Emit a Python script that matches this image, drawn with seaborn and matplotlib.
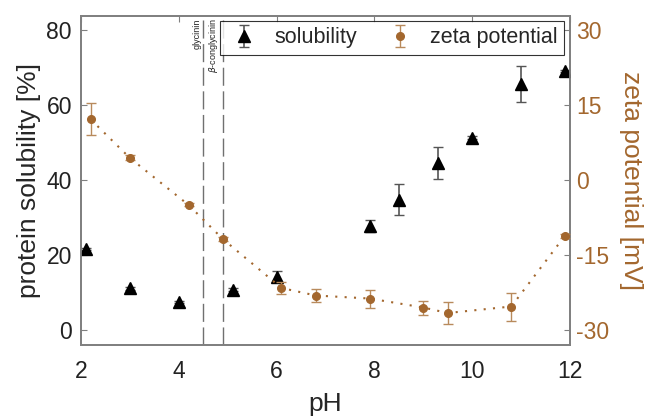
import matplotlib
matplotlib.use("Agg")
import matplotlib.pyplot as plt
import numpy as np
import pandas as pd
import seaborn as sns

# solubility data (left axis)
sol_ph = [2.1, 3.0, 4.0, 5.1, 6.0, 7.9, 8.5, 9.3, 10.0, 11.0, 11.9]
sol_val = [21.6, 11.1, 7.4, 10.8, 14.2, 27.6, 34.7, 44.6, 51.3, 65.6, 69.1]
sol_err = [0.3, 0.3, 0.3, 0.3, 1.5, 1.6, 4.1, 4.3, 0.4, 4.9, 0.3]

# zeta potential data (right axis)
zeta_ph = [2.2, 3.0, 4.2, 4.9, 6.1, 6.8, 7.9, 9.0, 9.5, 10.8, 11.9]
zeta_val = [12.1, 4.4, -5.0, -11.8, -21.6, -23.1, -23.7, -25.5, -26.6, -25.3, -11.1]
zeta_err = [3.2, 0.5, 0.3, 0.4, 1.2, 1.3, 1.8, 1.4, 2.2, 2.8, 0.4]

# isoelectric points
pi_ph = [4.5, 4.9]
pi_labels = ["glycinin", r"$\beta$-conglycinin"]
pi_text_x = [4.47, 4.84]

brown = "#a3672e"
spine_gray = "#808080"

sns.set_style("white")
plt.rcParams["font.family"] = ["Liberation Sans", "DejaVu Sans"]
plt.rcParams["axes.unicode_minus"] = False

sol_df = pd.DataFrame({"pH": sol_ph, "solubility": sol_val})
zeta_df = pd.DataFrame({"pH": zeta_ph, "zeta": zeta_val})

fig = plt.figure(figsize=(6.49, 4.18), dpi=100)
ax = fig.add_axes([0.1248, 0.1746, 0.7535, 0.7878])
ax2 = ax.twinx()

# dashed lines for the isoelectric points
for x, lab, tx in zip(pi_ph, pi_labels, pi_text_x):
    ax.axvline(x, color="#707070", lw=1.0, dashes=(13, 4), zorder=1)
    ax.text(tx, 83.0, lab, rotation=90, ha="right", va="top", fontsize=6.5, color="#222222")

# solubility
eb1 = ax.errorbar(sol_ph, sol_val, yerr=sol_err, fmt="^", color="black", ms=8,
                  ecolor="#555555", elinewidth=1.2, capsize=3.5, capthick=1.0,
                  label="solubility", zorder=3)
sns.scatterplot(data=sol_df, x="pH", y="solubility", marker="^", s=64, color="black",
                edgecolor="black", linewidth=0, ax=ax, legend=False, zorder=4)

# zeta potential
sns.lineplot(data=zeta_df, x="pH", y="zeta", ax=ax2, color=brown, lw=1.5,
             linestyle=(0, (1, 3.5)), legend=False, zorder=2)
eb2 = ax2.errorbar(zeta_ph, zeta_val, yerr=zeta_err, fmt="o", color=brown, ms=5.5,
                   ecolor="#b88a5c", elinewidth=1.0, capsize=3.5, capthick=1.0,
                   label="zeta potential", zorder=3)

ax.set_xlim(2, 12)
ax.set_ylim(-4, 83.8)
ax2.set_ylim(-33, 32.85)
ax.set_xticks([2, 4, 6, 8, 10, 12])
ax.set_yticks([0, 20, 40, 60, 80])
ax2.set_yticks([-30, -15, 0, 15, 30])

ax.set_xlabel("pH", fontsize=19, labelpad=6)
ax.set_ylabel("protein solubility [%]", fontsize=19, labelpad=4)
ax2.set_ylabel("zeta potential [mV]", fontsize=19, color=brown, rotation=270, labelpad=24)
ax2.set_xlabel("")

for a in (ax, ax2):
    for sp in a.spines.values():
        sp.set_color(spine_gray)
        sp.set_linewidth(1.3)

ax.tick_params(axis="x", direction="in", length=4, width=0.8, color=spine_gray,
               labelsize=16.5, labelcolor="#222222", top=True, pad=11)
ax.tick_params(axis="y", direction="in", length=4, width=0.8, color=spine_gray,
               labelsize=16.5, labelcolor="#222222", right=False, pad=6.5)
ax2.tick_params(axis="y", direction="in", length=4, width=0.8, color=spine_gray,
                labelsize=16.5, labelcolor=brown, pad=4.5)

leg = ax2.legend([eb1, eb2], ["solubility", "zeta potential"], ncol=2, loc="upper right",
                 bbox_to_anchor=(0.988, 0.984), fontsize=15.5, frameon=True, fancybox=False,
                 edgecolor="black", borderpad=0.3, handletextpad=0.6, columnspacing=1.2,
                 handlelength=1.6, borderaxespad=0)
leg.get_frame().set_linewidth(0.8)
leg.set_zorder(10)

fig.savefig("out.png", dpi=100)
